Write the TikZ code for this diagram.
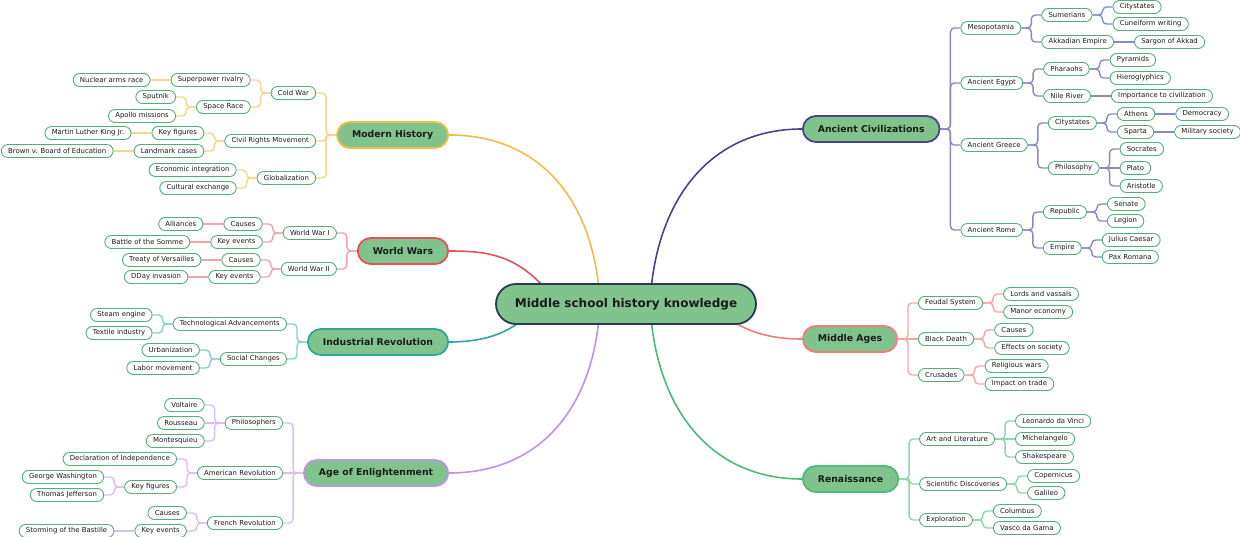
\documentclass[tikz,border=0pt]{standalone}
\usepackage{fontspec}
\setmainfont{DejaVu Sans}
\usetikzlibrary{calc}
\pgfdeclarelayer{bg}
\pgfsetlayers{bg,main}

\definecolor{topicfill}{HTML}{80C48B}
\definecolor{leafline}{HTML}{52AF7B}
\definecolor{rootline}{HTML}{243A58}
\definecolor{txt}{HTML}{1A1A1A}
\definecolor{ancC}{HTML}{45458E}
\definecolor{ancL}{HTML}{8A8AC2}
\definecolor{midC}{HTML}{F27E7A}
\definecolor{midL}{HTML}{F7A8A4}
\definecolor{renC}{HTML}{4DBA7A}
\definecolor{renL}{HTML}{8DD6A9}
\definecolor{modC}{HTML}{F0BD48}
\definecolor{modL}{HTML}{F6D58C}
\definecolor{wwC}{HTML}{E4505E}
\definecolor{wwL}{HTML}{F2A2AA}
\definecolor{irC}{HTML}{2EA69F}
\definecolor{irL}{HTML}{86D1CB}
\definecolor{aeC}{HTML}{C092E2}
\definecolor{aeL}{HTML}{DCBDF1}

\tikzset{
  rootnode/.style={draw=rootline, fill=topicfill, line width=1.8pt, rounded corners=20pt,
    minimum width=260pt, minimum height=40pt, inner sep=0pt, text=txt,
    font=\bfseries\fontsize{12}{14}\selectfont},
  topicnode/.style={fill=topicfill, line width=1.8pt, rounded corners=13pt,
    minimum height=26pt, inner xsep=15pt, inner ysep=0pt, text=txt,
    font=\bfseries\fontsize{9.3}{11}\selectfont},
  leafnode/.style={draw=leafline, fill=white, line width=0.9pt, rounded corners=6.5pt,
    minimum height=13pt, inner xsep=6.8pt, inner ysep=0pt, text=txt,
    font=\fontsize{6.9}{8}\selectfont},
  mainline/.style={line width=1.6pt},
  subline/.style={line width=1.4pt, rounded corners=4pt},
}

% left child: name, parent, y, text
\newcommand\LN[4]{\coordinate (ty#1) at (0,#3);
  \node[leafnode, anchor=east, xshift=-20pt] (#1) at (#2.west |- ty#1) {#4};}
% right child
\newcommand\RN[4]{\coordinate (ty#1) at (0,#3);
  \node[leafnode, anchor=west, xshift=20pt] (#1) at (#2.east |- ty#1) {#4};}
\newcommand\EL[3]{\draw[subline,#1] (#2.west) -- ++(-10,0) |- (#3.east);}
\newcommand\ER[3]{\draw[subline,#1] (#2.east) -- ++(10,0) |- (#3.west);}
\newcommand\SL[3]{\draw[subline,#1] (#2.west) -- (#3.east);}
\newcommand\SR[3]{\draw[subline,#1] (#2.east) -- (#3.west);}

\begin{document}
\begin{tikzpicture}[x=1pt,y=-1pt]
\useasboundingbox (0,0) rectangle (1240,536);

\node[rootnode] (root) at (626,304) {Middle school history knowledge};

% ---------- main topics ----------
\node[topicnode, draw=ancC, anchor=west] (anc) at (802,129) {Ancient Civilizations};
\node[topicnode, draw=midC, anchor=west] (mid) at (802,339) {Middle Ages};
\node[topicnode, draw=renC, anchor=west] (ren) at (802,479) {Renaissance};
\node[topicnode, draw=modC, anchor=east] (mod) at (449,135) {Modern History};
\node[topicnode, draw=wwC, anchor=east] (ww) at (449,251) {World Wars};
\node[topicnode, draw=irC, anchor=east] (ir) at (449,342) {Industrial Revolution};
\node[topicnode, draw=aeC, anchor=east] (ae) at (449,473) {Age of Enlightenment};

% ---------- Ancient Civilizations ----------
\RN{meso}{anc}{28}{Mesopotamia}
\RN{egy}{anc}{83}{Ancient Egypt}
\RN{gre}{anc}{145}{Ancient Greece}
\RN{rom}{anc}{230}{Ancient Rome}
\RN{sum}{meso}{15}{Sumerians}
\RN{akk}{meso}{42}{Akkadian Empire}
\RN{scity}{sum}{7}{Citystates}
\RN{cune}{sum}{24}{Cuneiform writing}
\RN{sarg}{akk}{42}{Sargon of Akkad}
\RN{phar}{egy}{69}{Pharaohs}
\RN{nile}{egy}{96}{Nile River}
\RN{pyr}{phar}{60}{Pyramids}
\RN{hier}{phar}{78}{Hieroglyphics}
\RN{impc}{nile}{96}{Importance to civilization}
\RN{gcity}{gre}{123}{Citystates}
\RN{phil}{gre}{168}{Philosophy}
\RN{ath}{gcity}{114}{Athens}
\RN{spa}{gcity}{132}{Sparta}
\RN{demo}{ath}{114}{Democracy}
\RN{mils}{spa}{132}{Military society}
\RN{socr}{phil}{149}{Socrates}
\RN{plat}{phil}{168}{Plato}
\RN{aris}{phil}{186}{Aristotle}
\RN{rep}{rom}{212}{Republic}
\RN{emp}{rom}{248}{Empire}
\RN{sen}{rep}{204}{Senate}
\RN{leg}{rep}{221}{Legion}
\RN{jul}{emp}{240}{Julius Caesar}
\RN{pax}{emp}{257}{Pax Romana}

% ---------- Middle Ages ----------
\RN{feud}{mid}{303}{Feudal System}
\RN{bdea}{mid}{339}{Black Death}
\RN{crus}{mid}{375}{Crusades}
\RN{lord}{feud}{294}{Lords and vassals}
\RN{mano}{feud}{312}{Manor economy}
\RN{bcau}{bdea}{330}{Causes}
\RN{beff}{bdea}{348}{Effects on society}
\RN{relw}{crus}{366}{Religious wars}
\RN{imtr}{crus}{384}{Impact on trade}

% ---------- Renaissance ----------
\RN{art}{ren}{439}{Art and Literature}
\RN{sci}{ren}{484}{Scientific Discoveries}
\RN{expl}{ren}{520}{Exploration}
\RN{leo}{art}{421}{Leonardo da Vinci}
\RN{mich}{art}{439}{Michelangelo}
\RN{shak}{art}{457}{Shakespeare}
\RN{cope}{sci}{476}{Copernicus}
\RN{gali}{sci}{493}{Galileo}
\RN{colu}{expl}{511}{Columbus}
\RN{vasc}{expl}{528}{Vasco da Gama}

% ---------- Modern History ----------
\LN{cold}{mod}{93}{Cold War}
\LN{civr}{mod}{141}{Civil Rights Movement}
\LN{glob}{mod}{178}{Globalization}
\LN{supr}{cold}{80}{Superpower rivalry}
\LN{spra}{cold}{107}{Space Race}
\LN{nucl}{supr}{80}{Nuclear arms race}
\LN{sput}{spra}{97}{Sputnik}
\LN{apol}{spra}{116}{Apollo missions}
\LN{keyf}{civr}{133}{Key figures}
\LN{land}{civr}{151}{Landmark cases}
\LN{mlk}{keyf}{133}{Martin Luther King Jr.}
\LN{brow}{land}{151}{Brown v. Board of Education}
\LN{econ}{glob}{170}{Economic integration}
\LN{cult}{glob}{188}{Cultural exchange}

% ---------- World Wars ----------
\LN{wwi}{ww}{233}{World War I}
\LN{wwii}{ww}{269}{World War II}
\LN{wcau}{wwi}{224}{Causes}
\LN{wkey}{wwi}{242}{Key events}
\LN{alli}{wcau}{224}{Alliances}
\LN{somm}{wkey}{242}{Battle of the Somme}
\LN{wcauii}{wwii}{260}{Causes}
\LN{wkeyii}{wwii}{277}{Key events}
\LN{vers}{wcauii}{260}{Treaty of Versailles}
\LN{dday}{wkeyii}{277}{DDay invasion}

% ---------- Industrial Revolution ----------
\LN{tech}{ir}{324}{Technological Advancements}
\LN{soc}{ir}{359}{Social Changes}
\LN{stea}{tech}{315}{Steam engine}
\LN{text}{tech}{333}{Textile industry}
\LN{urba}{soc}{350}{Urbanization}
\LN{labo}{soc}{368}{Labor movement}

% ---------- Age of Enlightenment ----------
\LN{phils}{ae}{423}{Philosophers}
\LN{amr}{ae}{473}{American Revolution}
\LN{frr}{ae}{523}{French Revolution}
\LN{volt}{phils}{405}{Voltaire}
\LN{rous}{phils}{423}{Rousseau}
\LN{mont}{phils}{441}{Montesquieu}
\LN{decl}{amr}{459}{Declaration of Independence}
\LN{akey}{amr}{487}{Key figures}
\LN{gwas}{akey}{477}{George Washington}
\LN{tjef}{akey}{495}{Thomas Jefferson}
\LN{fcau}{frr}{513}{Causes}
\LN{fkey}{frr}{531}{Key events}
\LN{bast}{fkey}{531}{Storming of the Bastille}

\begin{pgfonlayer}{bg}
% main curves
\coordinate (sMod) at (600,304);
\coordinate (sAe) at (600,304);
\coordinate (sAnc) at (650,304);
\coordinate (sRen) at (650,304);
\coordinate (sWw) at (555,300);
\coordinate (sIr) at (530,312);
\coordinate (sMid) at (720,312);
\draw[mainline,modC] (sMod) .. controls (595,200) and (540,135) .. (mod.east);
\draw[mainline,aeC] (sAe) .. controls (595,408) and (540,473) .. (ae.east);
\draw[mainline,ancC] (sAnc) .. controls (655,200) and (710,129) .. (anc.west);
\draw[mainline,renC] (sRen) .. controls (655,408) and (710,479) .. (ren.west);
\draw[mainline,wwC] (sWw) .. controls (520,255) and (490,251) .. (ww.east);
\draw[mainline,irC] (sIr) .. controls (510,335) and (480,342) .. (ir.east);
\draw[mainline,midC] (sMid) .. controls (745,333) and (772,339) .. (mid.west);

% Ancient
\foreach \c in {meso,egy,gre,rom} {\ER{ancL}{anc}{\c}}
\foreach \c in {sum,akk} {\ER{ancL}{meso}{\c}}
\foreach \c in {scity,cune} {\ER{ancL}{sum}{\c}}
\SR{ancL}{akk}{sarg}
\foreach \c in {phar,nile} {\ER{ancL}{egy}{\c}}
\foreach \c in {pyr,hier} {\ER{ancL}{phar}{\c}}
\SR{ancL}{nile}{impc}
\foreach \c in {gcity,phil} {\ER{ancL}{gre}{\c}}
\foreach \c in {ath,spa} {\ER{ancL}{gcity}{\c}}
\SR{ancL}{ath}{demo}
\SR{ancL}{spa}{mils}
\foreach \c in {socr,aris} {\ER{ancL}{phil}{\c}}
\SR{ancL}{phil}{plat}
\foreach \c in {rep,emp} {\ER{ancL}{rom}{\c}}
\foreach \c in {sen,leg} {\ER{ancL}{rep}{\c}}
\foreach \c in {jul,pax} {\ER{ancL}{emp}{\c}}

% Middle Ages
\foreach \c in {feud,crus} {\ER{midL}{mid}{\c}}
\SR{midL}{mid}{bdea}
\foreach \c in {lord,mano} {\ER{midL}{feud}{\c}}
\foreach \c in {bcau,beff} {\ER{midL}{bdea}{\c}}
\foreach \c in {relw,imtr} {\ER{midL}{crus}{\c}}

% Renaissance
\foreach \c in {art,sci,expl} {\ER{renL}{ren}{\c}}
\foreach \c in {leo,shak} {\ER{renL}{art}{\c}}
\SR{renL}{art}{mich}
\foreach \c in {cope,gali} {\ER{renL}{sci}{\c}}
\foreach \c in {colu,vasc} {\ER{renL}{expl}{\c}}

% Modern History
\foreach \c in {cold,civr,glob} {\EL{modL}{mod}{\c}}
\foreach \c in {supr,spra} {\EL{modL}{cold}{\c}}
\SL{modL}{supr}{nucl}
\foreach \c in {sput,apol} {\EL{modL}{spra}{\c}}
\foreach \c in {keyf,land} {\EL{modL}{civr}{\c}}
\SL{modL}{keyf}{mlk}
\SL{modL}{land}{brow}
\foreach \c in {econ,cult} {\EL{modL}{glob}{\c}}

% World Wars
\foreach \c in {wwi,wwii} {\EL{wwL}{ww}{\c}}
\foreach \c in {wcau,wkey} {\EL{wwL}{wwi}{\c}}
\SL{wwL}{wcau}{alli}
\SL{wwL}{wkey}{somm}
\foreach \c in {wcauii,wkeyii} {\EL{wwL}{wwii}{\c}}
\SL{wwL}{wcauii}{vers}
\SL{wwL}{wkeyii}{dday}

% Industrial Revolution
\foreach \c in {tech,soc} {\EL{irL}{ir}{\c}}
\foreach \c in {stea,text} {\EL{irL}{tech}{\c}}
\foreach \c in {urba,labo} {\EL{irL}{soc}{\c}}

% Enlightenment
\foreach \c in {phils,frr} {\EL{aeL}{ae}{\c}}
\SL{aeL}{ae}{amr}
\foreach \c in {volt,mont} {\EL{aeL}{phils}{\c}}
\SL{aeL}{phils}{rous}
\foreach \c in {decl,akey} {\EL{aeL}{amr}{\c}}
\foreach \c in {gwas,tjef} {\EL{aeL}{akey}{\c}}
\foreach \c in {fcau,fkey} {\EL{aeL}{frr}{\c}}
\SL{aeL}{fkey}{bast}
\end{pgfonlayer}
\end{tikzpicture}
\end{document}
